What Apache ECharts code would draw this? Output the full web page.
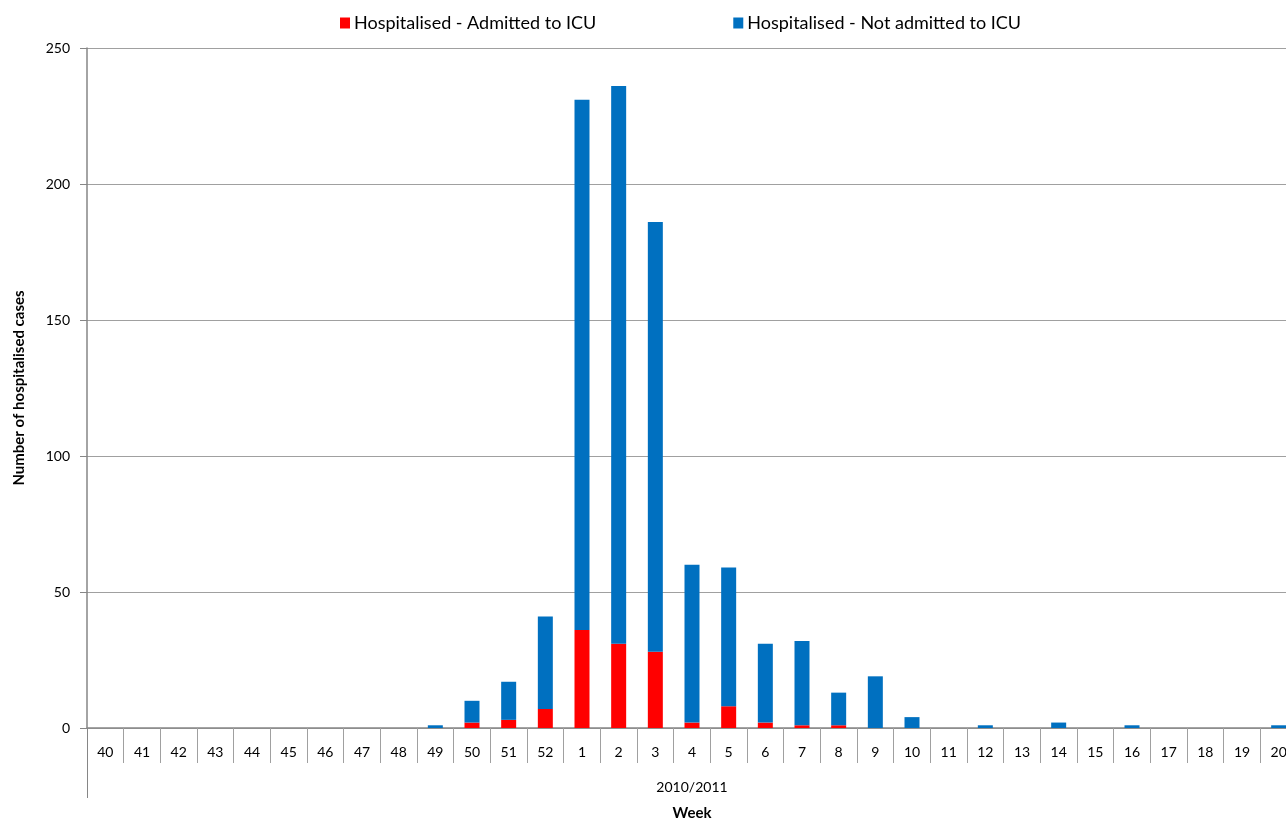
<!DOCTYPE html>
<html>
<head>
<meta charset="utf-8">
<script src="https://cdn.jsdelivr.net/npm/echarts@6/dist/echarts.min.js"></script>
<style>html,body{margin:0;padding:0;background:#fff}#c{width:1286px;height:820px}</style>
</head>
<body>
<div id="c"></div>
<script>
var weeks = ['40','41','42','43','44','45','46','47','48','49','50','51','52','1','2','3','4','5','6','7','8','9','10','11','12','13','14','15','16','17','18','19','20'];
var icu =    [0,0,0,0,0,0,0,0,0,0,2,3,7,36,31,28,2,8,2,1,1,0,0,0,0,0,0,0,0,0,0,0,0];
var notIcu = [0,0,0,0,0,0,0,0,0,1,8,14,34,195,205,158,58,51,29,31,12,19,4,0,1,0,2,0,1,0,0,0,1];
var seasonLabel = ['2010/2011'];
var yTicks = {min:0, max:250, interval:50};

var chart = echarts.init(document.getElementById('c'), null, {renderer:'canvas'});
var font = 'Lato, "Open Sans", sans-serif';
chart.setOption({
  animation:false,
  textStyle:{fontFamily:font},
  legend:{
    top:9, left:335, itemWidth:10, itemHeight:11, itemGap:137,
    icon:'rect',
    textStyle:{fontSize:18, color:'#000', fontFamily:font, padding:[0,0,0,-1]},
    data:['Hospitalised - Admitted to ICU','Hospitalised - Not admitted to ICU']
  },
  grid:{left:87, right:-11, top:48, bottom:92, containLabel:false, outerBoundsMode:'none'},
  xAxis:[{
    type:'category', data:weeks, boundaryGap:true,
    axisLine:{lineStyle:{color:'#868686', width:1.5}},
    axisTick:{show:true, interval:0, length:35, lineStyle:{color:'#a0a0a0'}},
    axisLabel:{interval:0, margin:17, fontSize:14, color:'#000', fontFamily:font},
    splitLine:{show:false}
  },{
    type:'category', data:seasonLabel, position:'bottom', offset:0,
    axisLine:{show:false},
    axisTick:{show:true, interval:0, length:70, lineStyle:{color:'#868686'}},
    axisLabel:{margin:52, fontSize:14, color:'#000', fontFamily:font},
    name:'Week', nameLocation:'middle', nameGap:78,
    nameTextStyle:{fontSize:15, fontWeight:'bold', color:'#000', fontFamily:font}
  }],
  yAxis:{
    type:'value', min:yTicks.min, max:yTicks.max, interval:yTicks.interval,
    name:'Number of hospitalised cases', nameLocation:'middle', nameGap:60,
    nameTextStyle:{fontSize:15, fontWeight:'bold', color:'#000', fontFamily:font},
    axisLine:{show:true, lineStyle:{color:'#868686', width:1.5}},
    axisTick:{show:true, length:7, lineStyle:{color:'#868686'}},
    axisLabel:{fontSize:14, color:'#000', margin:17, fontFamily:font},
    splitLine:{lineStyle:{color:'#a0a0a0'}}
  },
  series:[{
    name:'Hospitalised - Admitted to ICU', type:'bar', stack:'t', xAxisIndex:0,
    data:icu, barWidth:15,
    itemStyle:{color:'#ff0000'}
  },{
    name:'Hospitalised - Not admitted to ICU', type:'bar', stack:'t', xAxisIndex:0,
    data:notIcu, barWidth:15,
    itemStyle:{color:'#0070c0'}
  }]
});
</script>
</body>
</html>
